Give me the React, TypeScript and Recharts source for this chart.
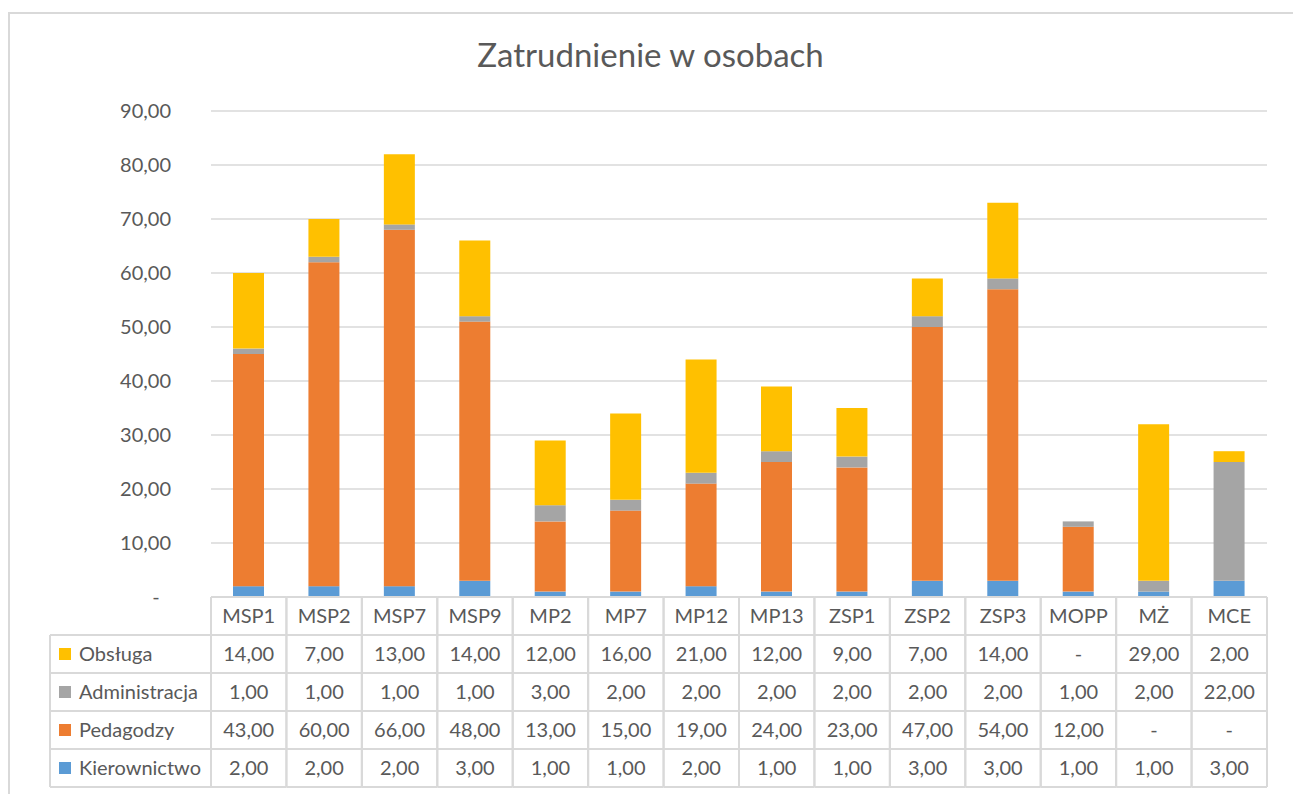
import { BarChart, Bar, XAxis, YAxis, CartesianGrid } from 'recharts';

const categories = ['MSP1', 'MSP2', 'MSP7', 'MSP9', 'MP2', 'MP7', 'MP12', 'MP13', 'ZSP1', 'ZSP2', 'ZSP3', 'MOPP', 'MŻ', 'MCE'];
const kierownictwo = [2, 2, 2, 3, 1, 1, 2, 1, 1, 3, 3, 1, 1, 3];
const pedagodzy = [43, 60, 66, 48, 13, 15, 19, 24, 23, 47, 54, 12, 0, 0];
const administracja = [1, 1, 1, 1, 3, 2, 2, 2, 2, 2, 2, 1, 2, 22];
const obsluga = [14, 7, 13, 14, 12, 16, 21, 12, 9, 7, 14, 0, 29, 2];
const yTicks = [0, 10, 20, 30, 40, 50, 60, 70, 80, 90];

const series = [
  { key: 'kierownictwo', name: 'Kierownictwo', color: '#5B9BD5', values: kierownictwo },
  { key: 'pedagodzy', name: 'Pedagodzy', color: '#ED7D31', values: pedagodzy },
  { key: 'administracja', name: 'Administracja', color: '#A5A5A5', values: administracja },
  { key: 'obsluga', name: 'Obsługa', color: '#FFC000', values: obsluga },
];
// kolejność wierszy w tabeli danych
const tableRows = [series[3], series[2], series[1], series[0]];

const data = categories.map((name, i) => ({
  name,
  kierownictwo: kierownictwo[i],
  pedagodzy: pedagodzy[i],
  administracja: administracja[i],
  obsluga: obsluga[i],
}));

const W = 1293;
const H = 794;
const LEFT = 211;
const RIGHT = 26;
const BAND = (W - LEFT - RIGHT) / categories.length;
const ROW_H = 38;
const LABEL_X = 50;
const FONT = 'Lato, "Open Sans", sans-serif';
const TEXT = '#595959';
const LINE = '#d9d9d9';

const fmt = (v: number) => (v === 0 ? '-' : v.toFixed(2).replace('.', ','));

function YTick(props: any) {
  const { y, payload } = props;
  const v = payload.value as number;
  if (v === 0) {
    return (
      <text x={156} y={y} dy={7} textAnchor="middle" fill={TEXT} fontSize={20} fontFamily={FONT}>-</text>
    );
  }
  return (
    <text x={171} y={y} dy={7} textAnchor="end" fill={TEXT} fontSize={20} fontFamily={FONT}>
      {fmt(v)}
    </text>
  );
}

function TableTick(props: any) {
  const { x, y, payload } = props;
  const i = payload.index as number;
  const l = x - BAND / 2;
  const r = x + BAND / 2;
  const lines = [];
  for (let k = 0; k <= 5; k++) {
    lines.push(<line key={'h' + k} x1={l} x2={r} y1={y + k * ROW_H} y2={y + k * ROW_H} stroke={LINE} strokeWidth={2} />);
  }
  return (
    <g>
      {lines}
      <line x1={l} x2={l} y1={y} y2={y + 5 * ROW_H} stroke={LINE} strokeWidth={2} />
      <line x1={r} x2={r} y1={y} y2={y + 5 * ROW_H} stroke={LINE} strokeWidth={2} />
      <text x={x} y={y + ROW_H / 2} dy={7} textAnchor="middle" fill={TEXT} fontSize={20} fontFamily={FONT}>
        {payload.value}
      </text>
      {tableRows.map((s, k) => (
        <text key={s.key} x={x} y={y + (k + 1.5) * ROW_H} dy={7} textAnchor="middle" fill={TEXT} fontSize={20} fontFamily={FONT}>
          {fmt(s.values[i])}
        </text>
      ))}
      {i === 0 && (
        <g>
          <line x1={LABEL_X} x2={LABEL_X} y1={y + ROW_H} y2={y + 5 * ROW_H} stroke={LINE} strokeWidth={2} />
          {[1, 2, 3, 4, 5].map((k) => (
            <line key={k} x1={LABEL_X} x2={l} y1={y + k * ROW_H} y2={y + k * ROW_H} stroke={LINE} strokeWidth={2} />
          ))}
          {tableRows.map((s, k) => (
            <g key={s.key}>
              <rect x={59} y={y + (k + 1.5) * ROW_H - 6} width={12} height={12} fill={s.color} />
              <text x={79} y={y + (k + 1.5) * ROW_H} dy={7} textAnchor="start" fill={TEXT} fontSize={20} fontFamily={FONT}>
                {s.name}
              </text>
            </g>
          ))}
        </g>
      )}
    </g>
  );
}

export default function App() {
  return (
    <div style={{ position: 'absolute', left: 0, top: 0, width: W, height: H, overflow: 'hidden', background: '#fff' }}>
      <div style={{ position: 'absolute', left: 8, top: 12, width: 1400, height: 900, border: `2px solid ${LINE}` }} />
      <div
        style={{
          position: 'absolute',
          left: 0,
          width: W,
          top: 34,
          textAlign: 'center',
          fontFamily: FONT,
          fontSize: 33,
          color: TEXT,
          paddingLeft: 4,
        }}
      >
        Zatrudnienie w osobach
      </div>
      <div style={{ position: 'absolute', left: 0, top: 0 }}>
        <BarChart width={W} height={H} data={data} margin={{ top: 111, right: RIGHT, left: 0, bottom: 7 }} barSize={31}>
          <CartesianGrid vertical={false} stroke={LINE} strokeWidth={1.5} />
          <YAxis
            width={LEFT}
            domain={[0, 90]}
            ticks={yTicks}
            axisLine={false}
            tickLine={false}
            tick={<YTick />}
            interval={0}
          />
          <XAxis
            dataKey="name"
            height={190}
            axisLine={false}
            tickLine={false}
            tickSize={0}
            tickMargin={0}
            interval={0}
            tick={<TableTick />}
          />
          {series.map((s) => (
            <Bar key={s.key} dataKey={s.key} name={s.name} stackId="a" fill={s.color} isAnimationActive={false} />
          ))}
        </BarChart>
      </div>
    </div>
  );
}
